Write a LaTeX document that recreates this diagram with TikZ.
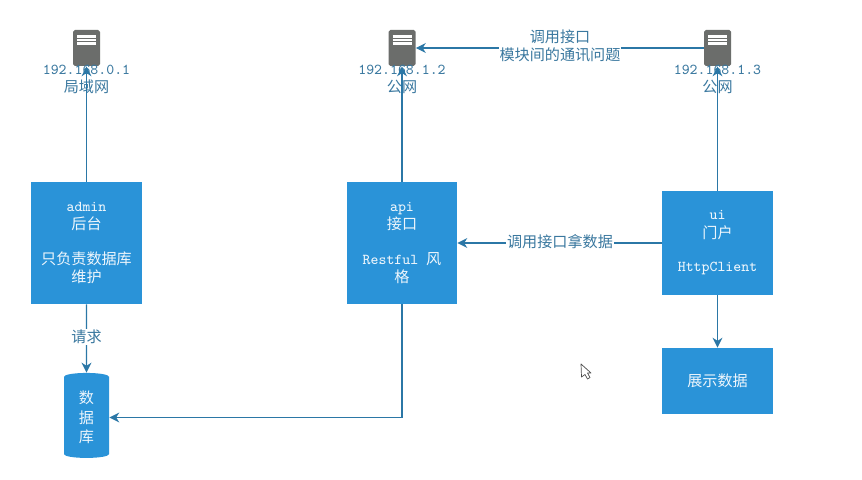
\documentclass[tikz,border=0pt]{standalone}
\usepackage{fontspec}
\newfontfamily\cjk{Noto Sans CJK SC}
\usetikzlibrary{shapes.geometric,arrows.meta,positioning,calc}
\definecolor{boxblue}{HTML}{2A93D8}
\definecolor{linkblue}{HTML}{2B77A6}
\definecolor{textblue}{HTML}{3A789F}
\definecolor{servergray}{HTML}{6B6D6B}
\newcommand{\zh}[1]{{\cjk #1}}

\begin{document}
\begin{tikzpicture}[
  module/.style={rectangle, fill=boxblue, text=white!92!boxblue, minimum width=2.22cm, align=center, inner sep=0pt,
    font=\fontsize{8.6}{10.3}\selectfont\ttfamily},
  server/.style={rectangle, fill=servergray, rounded corners=1pt, minimum width=0.54cm, minimum height=0.72cm, inner sep=0pt,
    path picture={
      \foreach \yy in {0.23,0.16,0.09}
        \draw[white, line width=1.6pt] ($(path picture bounding box.center)+(-0.19,\yy)$) -- ++(0.38,0);
    }},
  hostlabel/.style={text=textblue, align=center, inner sep=0pt, font=\fontsize{8.6}{10}\selectfont\ttfamily},
  linklabel/.style={hostlabel, fill=white, inner sep=0.5pt},
  arr/.style={-{Stealth[length=2mm,width=2mm]}, line width=0.6pt, linkblue}
]
  \useasboundingbox (0,0) rectangle (17.24,9.58);

  \node[server] (adminhost) at (1.73,8.62) {};
  \node[server] (apihost) at (8.04,8.62) {};
  \node[server] (uihost) at (14.35,8.62) {};

  \node[hostlabel] (adminip) at (1.73,7.99) {192.168.0.1\\\zh{局域网}};
  \node[hostlabel] (apiip) at (8.04,7.99) {192.168.1.2\\\zh{公网}};
  \node[hostlabel] (uiip) at (14.35,7.99) {192.168.1.3\\\zh{公网}};

  \node[module, minimum height=2.44cm] (admin) at (1.73,4.72) {admin\\\zh{后台}\\[10pt]\zh{只负责数据库}\\\zh{维护}};
  \node[module, minimum height=2.44cm, minimum width=2.2cm] (api) at (8.04,4.72) {api\\\zh{接口}\\[10pt]Restful \zh{风}\\\zh{格}};
  \node[module, minimum height=2.08cm] (ui) at (14.35,4.72) {ui\\\zh{门户}\\[9pt]HttpClient};
  \node[module, minimum height=1.32cm] (show) at (14.35,1.96) {\zh{展示数据}};
  \node[cylinder, shape border rotate=90, aspect=0.5, fill=boxblue, text=white!92!boxblue, minimum width=0.9cm, minimum height=1.7cm,
    align=center, inner sep=0pt, font=\fontsize{8.6}{10}\selectfont] (db) at (1.73,1.23) {\zh{数}\\[1pt]\zh{据}\\[1pt]\zh{库}};

  \draw[arr] (admin) -- (adminhost);
  \draw[arr] (api) -- (apihost);
  \draw[arr] (ui) -- (uihost);
  \draw[arr] (uihost) -- (apihost);
  \draw[arr] (ui) -- (api);
  \draw[arr] (ui) -- (show);
  \draw[arr] (admin) -- (db.north);
  \draw[arr] (api.south) |- (db.east);

  \node[linklabel] (calllabel) at (11.2,8.66) {\zh{调用接口}\\\zh{模块间的通讯问题}};
  \node[linklabel] (datalabel) at (11.2,4.74) {\zh{调用接口拿数据}};
  \node[linklabel] (reqlabel) at (1.73,2.84) {\zh{请求}};

  % mouse pointer
  \draw[black!70, fill=white, line width=0.4pt, line join=round]
    (11.62,2.30) -- (11.63,2.04) -- (11.70,2.09) -- (11.75,2.00) -- (11.80,2.03) -- (11.75,2.12) -- (11.82,2.12) -- cycle;
\end{tikzpicture}
\end{document}
